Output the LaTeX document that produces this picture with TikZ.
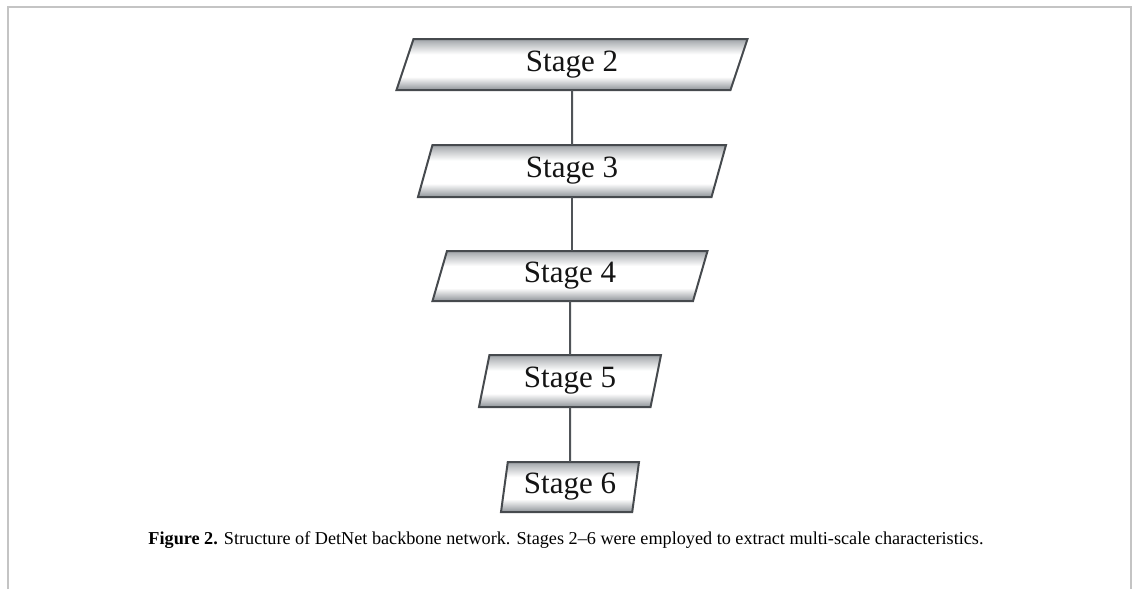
\documentclass[tikz,border=0pt]{standalone}
\usepackage{fontspec}
\setmainfont{Liberation Serif}
\usetikzlibrary{shapes.geometric}
\definecolor{stageborder}{HTML}{464A4E}
\definecolor{linkgray}{HTML}{505458}
\definecolor{framegray}{HTML}{C4C4C4}
\definecolor{edgegray}{HTML}{8E9398}
\pgfdeclareverticalshading{stageshade}{100bp}{color(0bp)=(edgegray); color(25bp)=(edgegray); color(30bp)=(edgegray!60); color(38bp)=(white); color(60bp)=(white); color(70bp)=(edgegray!55); color(75bp)=(edgegray!85); color(100bp)=(edgegray!85)}
\begin{document}
\begin{tikzpicture}[x=1pt,y=-1pt,
  stagebox/.style={trapezium, trapezium stretches body, draw=stageborder, line width=2pt,
    shading=stageshade, inner sep=0pt, outer sep=0pt,
    font=\fontsize{31}{32}\selectfont, text=black!92},
  link/.style={draw=linkgray, line width=2pt},
  frameline/.style={draw=framegray, line width=2pt},
  captext/.style={font=\fontsize{18.2}{20}\selectfont, text=black, inner sep=0pt}]
\useasboundingbox (0,0) rectangle (1135,589);
\draw[frameline] (8,589) -- (8,7) -- (1131,7) -- (1131,589);
\node[stagebox, trapezium left angle=58, trapezium right angle=122, minimum width=351pt, minimum height=51pt] (s2) at (572,64.5) {Stage 2};
\node[stagebox, trapezium left angle=62, trapezium right angle=118, minimum width=308pt, minimum height=52pt] (s3) at (572,171) {Stage 3};
\node[stagebox, trapezium left angle=62, trapezium right angle=118, minimum width=275pt, minimum height=50pt] (s4) at (570,276) {Stage 4};
\node[stagebox, trapezium left angle=69, trapezium right angle=111, minimum width=182pt, minimum height=52pt] (s5) at (570,381) {Stage 5};
\node[stagebox, trapezium left angle=76, trapezium right angle=104, minimum width=138pt, minimum height=50pt] (s6) at (570,487) {Stage 6};
\draw[link] (s2.south) -- (s3.north);
\draw[link] (s3.south) -- (s3.south |- s4.north);
\draw[link] (s4.south) -- (s5.north);
\draw[link] (s5.south) -- (s6.north);
\node[captext] (cap) at (566,540) {\textbf{Figure 2.} Structure of DetNet backbone network. Stages 2--6 were employed to extract multi-scale characteristics.};
\end{tikzpicture}
\end{document}
